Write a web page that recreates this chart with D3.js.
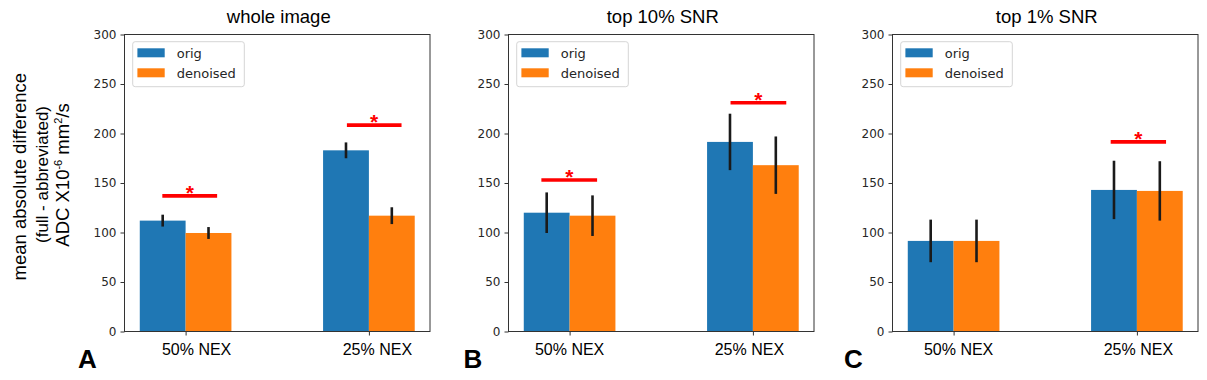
<!DOCTYPE html>
<html>
<head>
<meta charset="utf-8">
<script src="https://cdn.jsdelivr.net/npm/d3@7"></script>
<style>
  body { margin: 0; background: #fff; }
  svg { display: block; }
</style>
</head>
<body>
<svg id="fig" width="1207" height="380"></svg>
<script>
// donnees
var panelTitles = ["whole image", "top 10% SNR", "top 1% SNR"];
var panelLetters = ["A", "B", "C"];
var categories = ["50% NEX", "25% NEX"];
var seriesNames = ["orig", "denoised"];
var origMean = [[112, 183], [120, 191.5], [91.5, 143]];
var origErr = [[6, 8], [20.5, 28.5], [21.5, 29.5]];
var denMean = [[99.5, 117], [117, 168], [91.5, 142]];
var denErr = [[6, 8.5], [20.5, 29], [21.5, 30]];
var sigLevel = [[137, 208.5], [153, 231], [null, 191.5]];
var yTicks = [0, 50, 100, 150, 200, 250, 300];

// mise en page
var colors = ["#1f77b4", "#ff7f0e"];
var panelLeft = [124.5, 508.5, 892.5];
var panelW = 305.5, plotTop = 34.5, plotBottom = 331.5;
var labelShift = [[11, 8.5], [0, -3.5], [5, 1.5]];
var sigSpan = [[[-0.127, 0.172], [-0.12, 0.178]],
               [[-0.154, 0.15], [-0.122, 0.182]],
               [null, [-0.143, 0.159]]];
var letterX = [78, 463.5, 844];
var barW = 0.25;

var svg = d3.select("#fig");
var y = d3.scaleLinear().domain([0, 300]).range([plotBottom, plotTop]);

for (var p = 0; p < 3; p++) {
    var x = d3.scaleLinear().domain([-1 / 3, 4 / 3]).range([panelLeft[p], panelLeft[p] + panelW]);
    var g = svg.append("g");
    var means = [origMean[p], denMean[p]];
    var errs = [origErr[p], denErr[p]];

    // barres
    for (var s = 0; s < 2; s++) {
        g.selectAll(null).data(means[s]).enter().append("rect")
            .attr("x", function(d, i) { return x(s == 0 ? i - barW : i); })
            .attr("width", x(barW) - x(0))
            .attr("y", function(d) { return y(d); })
            .attr("height", function(d) { return y(0) - y(d); })
            .attr("fill", colors[s]);
    }
    // barres d'erreur
    for (var s = 0; s < 2; s++) {
        g.selectAll(null).data(means[s]).enter().append("line")
            .attr("x1", function(d, i) { return x(i + (s == 0 ? -barW / 2 : barW / 2)); })
            .attr("x2", function(d, i) { return x(i + (s == 0 ? -barW / 2 : barW / 2)); })
            .attr("y1", function(d, i) { return y(d - errs[s][i]); })
            .attr("y2", function(d, i) { return y(d + errs[s][i]); })
            .attr("stroke", "#1a1a1a")
            .attr("stroke-width", 2.6);
    }

    // significativite
    sigLevel[p].forEach(function(v, i) {
        if (v == null) return;
        var sp = sigSpan[p][i];
        var x1 = x(i + sp[0]), x2 = x(i + sp[1]);
        g.append("line")
            .attr("x1", x1).attr("x2", x2)
            .attr("y1", y(v)).attr("y2", y(v))
            .attr("stroke", "#ff0000").attr("stroke-width", 3.6);
        g.append("text")
            .attr("x", (x1 + x2) / 2).attr("y", y(v) + 4)
            .attr("text-anchor", "middle")
            .style("font-family", "'Liberation Sans', Arial, sans-serif")
            .style("font-size", "21px").style("font-weight", "bold")
            .attr("fill", "#ff0000")
            .text("*");
    });

    // axes
    var yAxis = d3.axisLeft(y).tickValues(yTicks).tickSize(4).tickPadding(4);
    var ga = g.append("g").attr("transform", "translate(" + panelLeft[p] + ",0)").call(yAxis);
    ga.select(".domain").remove();
    ga.selectAll("line").attr("stroke", "#333");
    ga.selectAll("text")
        .style("font-family", "'DejaVu Sans', sans-serif")
        .style("font-size", "12px").attr("fill", "#262626");

    var xAxis = d3.axisBottom(x).tickValues([0, 1]).tickSize(4).tickFormat("");
    var gx = g.append("g").attr("transform", "translate(0," + plotBottom + ")").call(xAxis);
    gx.select(".domain").remove();
    gx.selectAll("line").attr("stroke", "#333");

    g.append("rect")
        .attr("x", panelLeft[p]).attr("y", plotTop)
        .attr("width", panelW).attr("height", plotBottom - plotTop)
        .attr("fill", "none").attr("stroke", "#333").attr("stroke-width", 1);

    categories.forEach(function(c, i) {
        g.append("text")
            .attr("x", x(i) + labelShift[p][i]).attr("y", 355)
            .attr("text-anchor", "middle")
            .style("font-family", "'Liberation Sans', Arial, sans-serif")
            .style("font-size", "16px").attr("fill", "#000")
            .text(c);
    });

    // titre
    g.append("text")
        .attr("x", panelLeft[p] + panelW / 2 + 1.5).attr("y", 22.5)
        .attr("text-anchor", "middle")
        .style("font-family", "'Liberation Sans', Arial, sans-serif")
        .style("font-size", "18.5px").attr("fill", "#000")
        .text(panelTitles[p]);

    // legende
    var lx = panelLeft[p] + 8.2, ly = 41.7;
    var lg = g.append("g").attr("transform", "translate(" + lx + "," + ly + ")");
    lg.append("rect").attr("width", 111.6).attr("height", 45).attr("rx", 2.5)
        .attr("fill", "#fff").attr("fill-opacity", 0.8)
        .attr("stroke", "#d5d5d5").attr("stroke-width", 1);
    seriesNames.forEach(function(n, i) {
        lg.append("rect").attr("x", 4.7).attr("y", 6.6 + i * 20)
            .attr("width", 27.3).attr("height", 9).attr("fill", colors[i]);
        lg.append("text").attr("x", 44).attr("y", 11.4 + i * 20)
            .attr("dy", "0.36em")
            .style("font-family", "'DejaVu Sans', sans-serif")
            .style("font-size", "13px").attr("fill", "#262626")
            .text(n);
    });

    // lettre
    svg.append("text")
        .attr("x", letterX[p]).attr("y", 368)
        .style("font-family", "'Liberation Sans', Arial, sans-serif")
        .style("font-size", "26px").style("font-weight", "bold")
        .attr("fill", "#000")
        .text(panelLetters[p]);
}

// titre axe y
var ff = "'Liberation Sans', Arial, sans-serif";
svg.append("text")
    .attr("transform", "translate(25.5,176.7) rotate(-90)")
    .attr("text-anchor", "middle")
    .style("font-family", ff).style("font-size", "18.5px")
    .text("mean absolute difference");
svg.append("text")
    .attr("transform", "translate(48,174.5) rotate(-90)")
    .attr("text-anchor", "middle")
    .style("font-family", ff).style("font-size", "17px")
    .text("(full - abbreviated)");
var t3 = svg.append("text")
    .attr("transform", "translate(68.5,175) rotate(-90)")
    .attr("text-anchor", "middle")
    .style("font-family", ff).style("font-size", "18.5px");
t3.append("tspan").text("ADC X10");
t3.append("tspan").attr("dy", -7).style("font-size", "11px").text("-6");
t3.append("tspan").attr("dy", 7).text(" mm");
t3.append("tspan").attr("dy", -7).style("font-size", "11px").text("2");
t3.append("tspan").attr("dy", 7).text("/s");
</script>
</body>
</html>
